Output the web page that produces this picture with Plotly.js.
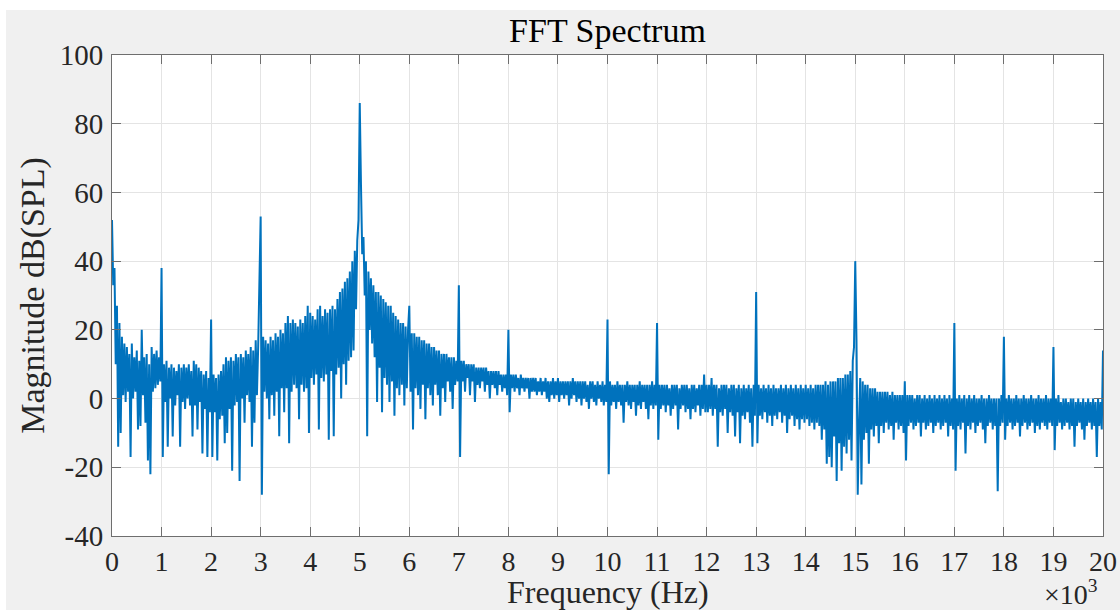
<!DOCTYPE html>
<html>
<head>
<meta charset="utf-8">
<script src="https://cdn.plot.ly/plotly-3.0.1.min.js"></script>
<style>
  html, body { margin: 0; padding: 0; background: #ffffff; }
  #chart { position: absolute; left: 6px; top: 10px; width: 1114px; height: 600px; }
</style>
</head>
<body>
<div id="chart"></div>
<script>
// Frequency axis: uniform bins, start 0 kHz, step 0.025 kHz (25 Hz)
const freqStartKHz = 0;
const freqStepKHz = 0.025;

// Magnitude dB(SPL), one array per kHz band (40 bins each)
const band00 = [52,33,38,10,27,-14,22,-10,18,1,16,-1,15,2,13,-17,16,0,12,2,14,-9,11,-8,20,1,12,-7,13,-18,10,-22,15,2,13,3,14,4,12,5];
const band01 = [38,-17,10,-1,11,-14,9,0,10,-11,9,-2,8,1,10,-14,9,-1,10,-3,9,0,10,-2,8,-11,11,-2,10,-9,9,-1,8,-16,7,-3,8,-17,6,-4];
const band02 = [23,-17,7,-4,6,-18,7,-6,8,-5,10,-13,12,-10,11,-3,12,-21,11,-2,13,-1,12,-24,13,0,12,-7,14,1,13,-1,15,-14,14,-7,17,1,15,30];
const band03 = [53,-28,18,2,17,0,16,-6,18,1,17,-5,19,2,18,-11,20,3,19,-4,22,3,24,-13,22,2,23,4,22,3,21,-6,23,4,22,2,24,3,27,-10];
const band04 = [25,6,24,4,23,7,26,-9,27,6,24,5,26,7,25,-12,26,8,27,-11,26,7,29,9,31,0,32,10,34,4,35,11,37,12,40,14,43,26,46,52];
const band05 = [86,62,42,47,30,40,-11,37,20,35,16,33,12,31,-1,31,9,30,-4,29,6,28,4,27,-1,27,5,25,-5,24,3,23,1,22,4,22,-2,21,3,20];
const band06 = [27,2,19,-9,19,3,18,1,18,-3,17,4,17,-6,16,3,16,1,15,-2,15,4,14,1,14,-5,13,3,13,-1,13,5,12,2,12,-3,12,4,11,5];
const band07 = [33,-17,11,5,11,2,10,6,10,1,10,5,10,-1,9,4,9,3,9,5,9,2,9,4,8,0,8,4,8,3,8,1,8,4,7,2,7,3,7,1];
const band08 = [20,-4,7,3,7,2,7,3,6,1,7,3,6,2,6,3,6,0,6,2,6,2,6,1,5,2,6,1,5,2,6,0,5,-1,5,1,6,0,5,1];
const band09 = [6,-1,5,1,5,0,5,1,5,-2,5,0,6,1,5,-1,5,0,5,-2,5,0,5,-1,4,-3,5,0,5,-1,4,-2,5,0,4,-1,5,-2,4,-1];
const band10 = [23,-22,5,-2,4,-1,4,-3,5,-1,4,-2,4,-7,4,-1,5,-2,4,-3,4,-1,4,-5,4,-2,5,-3,4,-1,4,-3,4,-6,4,-2,5,-3,4,-2];
const band11 = [22,-12,4,-3,4,-2,4,-4,4,-2,3,-5,4,-3,4,-2,4,-9,3,-3,4,-2,4,-4,4,-3,3,-6,4,-3,4,-4,3,-2,4,-5,4,-3,7,-4];
const band12 = [4,-4,4,-3,6,-5,4,-3,4,-14,3,-4,4,-5,4,-3,4,-10,3,-4,4,-5,4,-11,3,-4,4,-13,3,-5,4,-6,3,-4,4,-7,3,-14,4,-5];
const band13 = [31,-13,4,-5,3,-6,4,-4,3,-7,4,-5,3,-8,4,-5,3,-6,3,-4,4,-7,3,-5,4,-10,3,-6,4,-5,3,-8,4,-6,3,-9,4,-6,3,-7];
const band14 = [4,-6,3,-8,4,-7,3,-9,4,-7,4,-8,4,-12,4,-9,5,-19,4,-17,5,-20,5,-11,5,-24,6,-13,6,-21,6,-14,7,-16,7,-12,8,-18,11,15];
const band15 = [40,17,-28,-8,6,-25,5,-12,4,-10,4,-19,3,-9,3,-11,3,-8,2,-13,2,-8,2,-10,2,-7,2,-9,1,-8,2,-12,1,-7,1,-9,1,-8,1,-10];
const band16 = [5,-18,1,-8,1,-7,1,-9,0,-8,1,-7,1,-11,0,-7,1,-9,0,-8,1,-7,0,-10,1,-8,0,-7,1,-9,0,-8,1,-7,0,-11,1,-8,0,-9];
const band17 = [22,-21,0,-8,1,-9,0,-7,1,-16,0,-8,1,-9,0,-7,1,-10,0,-8,0,-7,1,-9,0,-13,0,-8,1,-7,0,-9,0,-8,0,-27,0,-8,1,-7];
const band18 = [18,-12,0,-8,1,-7,0,-9,0,-8,1,-7,0,-11,0,-8,1,-7,0,-9,0,-8,1,-7,0,-10,0,-8,1,-9,0,-7,0,-8,1,-9,0,-7,0,-8];
const band19 = [15,-15,0,-8,1,-7,-1,-9,0,-8,0,-7,-1,-9,0,-8,0,-14,-1,-8,0,-7,-1,-9,0,-12,-1,-8,0,-7,-1,-9,0,-8,-1,-17,0,-8,-1,-9];
const band20 = [14];

const magnitude = [].concat(band00, band01, band02, band03, band04, band05, band06, band07, band08, band09,
                            band10, band11, band12, band13, band14, band15, band16, band17, band18, band19, band20);

const xTickVals = [0,1,2,3,4,5,6,7,8,9,10,11,12,13,14,15,16,17,18,19,20];
const xTickText = ['0','1','2','3','4','5','6','7','8','9','10','11','12','13','14','15','16','17','18','19','20'];
const yTickVals = [-40,-20,0,20,40,60,80,100];
const yTickText = ['-40','-20','0','20','40','60','80','100'];

const FONT = '"Liberation Serif", "Times New Roman", serif';
const AXCOL = '#6e6e6e';

const trace = {
  type: 'scatter',
  mode: 'lines',
  x0: freqStartKHz,
  dx: freqStepKHz,
  y: magnitude,
  line: { color: '#0072BD', width: 2 },
  hoverinfo: 'x+y'
};

const layout = {
  width: 1114,
  height: 600,
  paper_bgcolor: '#f0f0f0',
  plot_bgcolor: '#ffffff',
  margin: { l: 105.7, r: 16.7, t: 45, b: 74.3, pad: 0 },
  showlegend: false,
  title: {
    text: 'FFT Spectrum',
    font: { family: FONT, size: 34, color: '#000000' },
    x: 0.5, xref: 'paper', xanchor: 'center',
    y: 0.967, yref: 'container', yanchor: 'middle'
  },
  xaxis: {
    range: [0, 20],
    tickvals: xTickVals,
    ticktext: xTickText,
    ticks: 'inside',
    ticklen: 9,
    tickwidth: 1,
    tickcolor: AXCOL,
    showline: true,
    linecolor: AXCOL,
    linewidth: 1,
    mirror: 'ticks',
    showgrid: true,
    gridcolor: '#e4e4e4',
    gridwidth: 1,
    zeroline: false,
    tickfont: { family: FONT, size: 28, color: '#262626' },
    ticklabelstandoff: 0
  },
  yaxis: {
    range: [-40, 100],
    tickvals: yTickVals,
    ticktext: yTickText,
    ticks: 'inside',
    ticklen: 9,
    tickwidth: 1,
    tickcolor: AXCOL,
    showline: true,
    linecolor: AXCOL,
    linewidth: 1,
    mirror: 'ticks',
    showgrid: true,
    gridcolor: '#e4e4e4',
    gridwidth: 1,
    zeroline: false,
    tickfont: { family: FONT, size: 29, color: '#262626' },
    ticklabelstandoff: 2,
    title: { text: 'Magnitude dB(SPL)', font: { family: FONT, size: 34, color: '#262626' }, standoff: 4 }
  },
  annotations: [
    {
      text: 'Frequency (Hz)',
      xref: 'paper', yref: 'paper',
      x: 0.5, y: -0.116,
      xanchor: 'center', yanchor: 'middle',
      showarrow: false,
      font: { family: FONT, size: 32, color: '#262626' }
    },
    {
      text: '×10<sup>3</sup>',
      xref: 'paper', yref: 'paper',
      x: 0.9967, y: -0.117,
      xanchor: 'right', yanchor: 'middle',
      showarrow: false,
      font: { family: FONT, size: 28, color: '#262626' }
    }
  ]
};

Plotly.newPlot('chart', [trace], layout, { displayModeBar: false });
</script>
</body>
</html>
